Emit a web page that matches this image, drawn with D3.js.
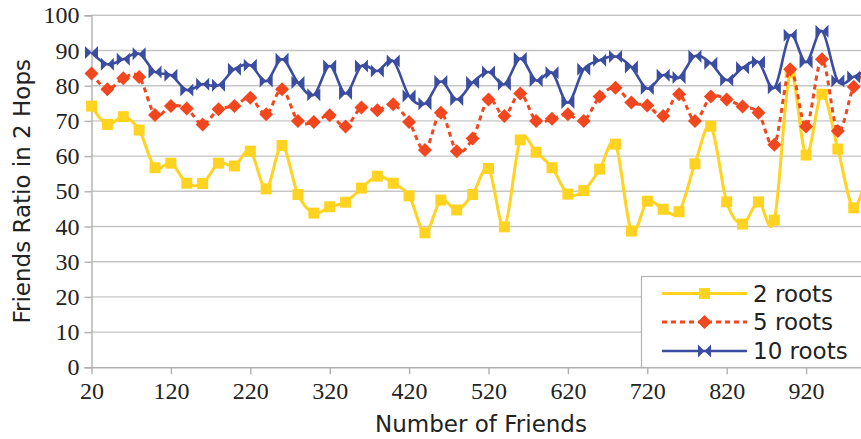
<!DOCTYPE html>
<html>
<head>
<meta charset="utf-8">
<script src="https://cdn.jsdelivr.net/npm/d3@7"></script>
<style>
  body { margin: 0; background: #fff; }
  svg { display: block; }
</style>
</head>
<body>
<svg id="chart" width="861" height="439"></svg>
<script>
// friends ratio chart, one point every 20 friends

var friends = d3.range(20, 1001, 20);

var roots2 = [74.2, 69, 71.2, 67.4, 56.7, 58, 52.3, 52.2, 58, 57.2,
  61.4, 50.7, 63, 49.1, 43.8, 45.6, 46.9, 50.9, 54.3, 52.3,
  48.7, 38.2, 47.5, 44.7, 49.1, 56.5, 39.9, 64.6, 61.1, 56.7,
  49.2, 50.2, 56.3, 63.4, 38.7, 47.2, 44.9, 44.2, 57.8, 68.5,
  47, 40.7, 47, 41.8, 83.7, 60.3, 77.6, 62, 45.3, 58];

var roots5 = [83.5, 79, 82.1, 82.5, 71.7, 74.2, 73.5, 69, 73.3, 74.2,
  76.6, 71.9, 79, 70, 69.7, 71.6, 68.4, 73.8, 73, 74.7,
  69.7, 61.7, 72.3, 61.4, 65, 76.1, 71.4, 77.8, 70, 70.6,
  71.9, 70, 76.9, 79.4, 75.2, 74.4, 71.4, 77.6, 70, 76.9,
  76.1, 74.1, 72.3, 63.2, 84.7, 68.4, 87.5, 67.1, 79.7, 85];

var roots10 = [89.4, 86.1, 87.5, 89.1, 83.9, 83, 78.8, 80.4, 80.1, 84.7,
  85.8, 81.3, 87.5, 80.9, 77.4, 85.6, 77.8, 85.6, 84.2, 87,
  77.1, 74.9, 81.2, 76.1, 80.9, 83.9, 80.4, 87.7, 81.5, 83.7,
  75.2, 84.7, 87.2, 88.3, 85.3, 79.2, 83, 82.3, 88.4, 86.4,
  81.6, 85.1, 86.7, 79.4, 94.3, 86.7, 95.5, 81.3, 82.5, 85];

var xTicks = [20, 120, 220, 320, 420, 520, 620, 720, 820, 920];
var yTicks = [0, 10, 20, 30, 40, 50, 60, 70, 80, 90, 100];
var seriesNames = ["2 roots", "5 roots", "10 roots"];

var svg = d3.select("#chart");
var W = 861, H = 439;

var x = d3.scaleLinear().domain([20, 1000]).range([91.5, 869.6]);
var y = d3.scaleLinear().domain([0, 100]).range([367.3, 15.3]);

var tickFont = "'Liberation Serif', serif";
var textFont = "'DejaVu Sans', sans-serif";

// gridlines
svg.append("g")
  .selectAll("line")
  .data(yTicks.slice(1))
  .enter().append("line")
  .attr("x1", x(20)).attr("x2", W)
  .attr("y1", function (d) { return y(d); })
  .attr("y2", function (d) { return y(d); })
  .attr("stroke", "#c6c6c6")
  .attr("stroke-width", 1.4);

// y axis
var yAxis = d3.axisLeft(y).tickValues(yTicks).tickSize(7).tickPadding(5);
var gy = svg.append("g").attr("transform", "translate(" + x(20) + ",0)").call(yAxis);
gy.select(".domain").attr("stroke", "#b0b0b0").attr("stroke-width", 1.4);
gy.selectAll(".tick line").attr("stroke", "#b0b0b0").attr("stroke-width", 1.4);
gy.selectAll(".tick text")
  .attr("font-family", tickFont).attr("font-size", 24).attr("fill", "#222");

// x axis
var xAxis = d3.axisBottom(x).tickValues(xTicks).tickSize(7).tickPadding(8).tickSizeOuter(0);
var gx = svg.append("g").attr("transform", "translate(0," + y(0) + ")").call(xAxis);
gx.select(".domain").attr("stroke", "#b0b0b0").attr("stroke-width", 1.4);
gx.selectAll(".tick line").attr("stroke", "#b0b0b0").attr("stroke-width", 1.4);
gx.selectAll(".tick text")
  .attr("font-family", tickFont).attr("font-size", 24).attr("fill", "#222");

// axis titles
svg.append("text")
  .attr("transform", "translate(30," + ((y(0) + y(100)) / 2) + ") rotate(-90)")
  .attr("text-anchor", "middle")
  .attr("font-family", textFont).attr("font-size", 23).attr("fill", "#222")
  .text("Friends Ratio in 2 Hops");

svg.append("text")
  .attr("x", 481).attr("y", 432)
  .attr("text-anchor", "middle")
  .attr("font-family", textFont).attr("font-size", 23).attr("fill", "#222")
  .text("Number of Friends");

// marker shapes
function squarePath(s) {
  return "M" + (-s) + "," + (-s) + "H" + s + "V" + s + "H" + (-s) + "Z";
}
function diamondPath(s) {
  return "M0," + (-s) + "L" + s + ",0L0," + s + "L" + (-s) + ",0Z";
}
function bowtiePath(s) {
  return "M" + (-s) + "," + (-s) + "L0,0L" + (-s) + "," + s + "Z" +
    "M" + s + "," + (-s) + "L0,0L" + s + "," + s + "Z";
}

var series = [
  { name: seriesNames[0], values: roots2, color: "#ffd320", dash: null, width: 3, marker: squarePath(5.5) },
  { name: seriesNames[1], values: roots5, color: "#f2461f", dash: "5,4", width: 3, marker: diamondPath(7) },
  { name: seriesNames[2], values: roots10, color: "#3b4da0", dash: null, width: 2.6, marker: bowtiePath(6.5) }
];

svg.append("defs").append("clipPath").attr("id", "plotclip")
  .append("rect").attr("x", 0).attr("y", 0).attr("width", W).attr("height", y(0));

var line = d3.line()
  .x(function (d, i) { return x(friends[i]); })
  .y(function (d) { return y(d); })
  .curve(d3.curveCatmullRom.alpha(0));

var plot = svg.append("g").attr("clip-path", "url(#plotclip)");

series.forEach(function (s) {
  var g = plot.append("g");
  g.append("path")
    .datum(s.values)
    .attr("fill", "none")
    .attr("stroke", s.color)
    .attr("stroke-width", s.width)
    .attr("stroke-dasharray", s.dash)
    .attr("d", line);
  g.selectAll("path.m")
    .data(s.values)
    .enter().append("path")
    .attr("class", "m")
    .attr("transform", function (d, i) { return "translate(" + x(friends[i]) + "," + y(d) + ")"; })
    .attr("d", s.marker)
    .attr("fill", s.color);
});

// legend
var legend = svg.append("g");
legend.append("rect")
  .attr("x", 641.5).attr("y", 276.5).attr("width", 240).attr("height", 91)
  .attr("fill", "#fff").attr("stroke", "#b3b3b3").attr("stroke-width", 1.2);

var rowY = [293.5, 322, 351];
series.forEach(function (s, i) {
  var row = legend.append("g").attr("transform", "translate(0," + rowY[i] + ")");
  row.append("line")
    .attr("x1", 662).attr("x2", 747)
    .attr("stroke", s.color).attr("stroke-width", s.width)
    .attr("stroke-dasharray", s.dash);
  row.append("path")
    .attr("transform", "translate(704.5,0)")
    .attr("d", s.marker).attr("fill", s.color);
  row.append("text")
    .attr("x", 753).attr("y", 8)
    .attr("font-family", textFont).attr("font-size", 23).attr("fill", "#222")
    .text(s.name);
});
</script>
</body>
</html>
